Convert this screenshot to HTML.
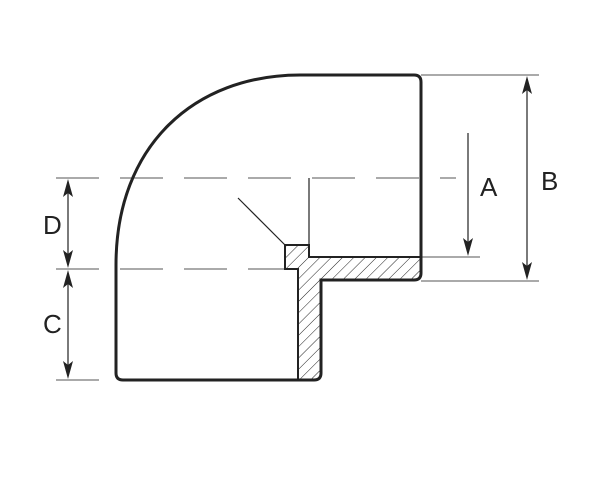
<!DOCTYPE html>
<html><head><style>html,body{margin:0;padding:0;background:#fff;width:607px;height:482px;overflow:hidden}</style></head>
<body>
<svg width="607" height="482" viewBox="0 0 607 482" xmlns="http://www.w3.org/2000/svg">
<defs>
<pattern id="h" patternUnits="userSpaceOnUse" width="8" height="8" patternTransform="rotate(45)">
<line x1="0" y1="0" x2="0" y2="8" stroke="#222" stroke-width="1"/>
</pattern>
</defs>
<g stroke="#555" stroke-width="1" fill="none">
<line x1="56" y1="178" x2="456" y2="178" stroke-dasharray="43 21"/>
<line x1="56" y1="269" x2="285" y2="269" stroke-dasharray="43 21"/>
<line x1="56" y1="380" x2="99" y2="380"/>
<line x1="421" y1="75" x2="539" y2="75"/>
<line x1="421" y1="281" x2="539" y2="281"/>
<line x1="421" y1="257" x2="480" y2="257"/>
</g>
<g stroke="#222" stroke-width="1.2" fill="none">
<line x1="68" y1="185" x2="68" y2="262"/>
<line x1="68" y1="276" x2="68" y2="373"/>
<line x1="527" y1="82" x2="527" y2="274"/>
<line x1="468" y1="133" x2="468" y2="250"/>
<line x1="309" y1="178" x2="309" y2="245"/>
<line x1="238" y1="198" x2="285" y2="245"/>
</g>
<g fill="#222">
<path d="M68,179 L73,197 L68,193 L63,197 Z"/>
<path d="M68,268 L73,250 L68,254 L63,250 Z"/>
<path d="M68,270 L73,288 L68,284 L63,288 Z"/>
<path d="M68,379 L73,361 L68,365 L63,361 Z"/>
<path d="M527,76 L532,94 L527,90 L522,94 Z"/>
<path d="M527,280 L532,262 L527,266 L522,262 Z"/>
<path d="M468,256 L473,238 L468,242 L463,238 Z"/>
</g>
<path d="M285,245 H309 V257 H421 V273 Q421,280 414,280 H321 V373 Q321,380 314,380 H298 V269 H285 Z" fill="url(#h)" stroke="#222" stroke-width="2"/>
<path d="M300,75 H414 Q421,75 421,82 V273 Q421,280 414,280 H321 V373 Q321,380 314,380 H123 Q116,380 116,373 V265 C116,145 195,75 300,75 Z" fill="none" stroke="#222" stroke-width="3"/>
<g font-family="Liberation Sans, sans-serif" font-size="26" fill="#222">
<text x="480" y="196">A</text>
<text x="541" y="190">B</text>
<text x="43" y="234">D</text>
<text x="43" y="333">C</text>
</g>
</svg>
</body></html>
